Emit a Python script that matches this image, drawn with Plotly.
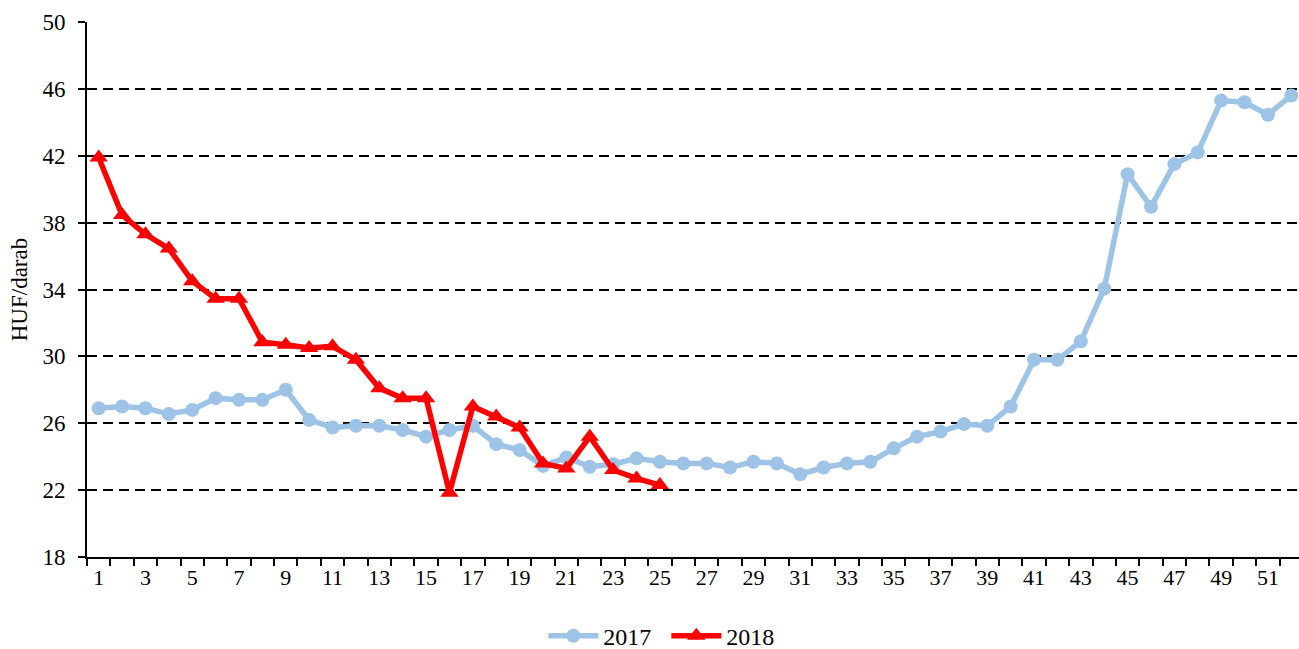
import plotly.graph_objects as go

weeks = list(range(1, 53))
values_2017 = [26.9, 27.0, 26.9, 26.55, 26.8, 27.5, 27.4, 27.4, 28.0, 26.2,
               25.75, 25.85, 25.85, 25.6, 25.2, 25.6, 25.85, 24.75, 24.4, 23.45,
               23.95, 23.4, 23.55, 23.9, 23.7, 23.6, 23.6, 23.35, 23.7, 23.6,
               22.95, 23.35, 23.6, 23.7, 24.5, 25.2, 25.5, 25.95, 25.85, 27.0,
               29.8, 29.8, 30.9, 34.05, 40.9, 38.95, 41.5, 42.2, 45.3, 45.2,
               44.45, 45.6]
weeks_2018 = list(range(1, 26))
values_2018 = [41.9, 38.45, 37.3, 36.45, 34.5, 33.45, 33.45, 30.85, 30.7, 30.5,
               30.6, 29.8, 28.1, 27.5, 27.5, 21.85, 27.0, 26.4, 25.75, 23.6,
               23.3, 25.2, 23.2, 22.7, 22.3]
x_tick_labels = [str(w) for w in range(1, 53, 2)]
y_ticks = [18, 22, 26, 30, 34, 38, 42, 46, 50]

font = "Liberation Serif, Times New Roman, serif"

fig = go.Figure()
fig.add_trace(go.Scatter(
    x=weeks, y=values_2017, name="2017", mode="lines+markers",
    line=dict(color="#9DC3E6", width=5.5),
    marker=dict(symbol="circle", size=14, color="#9DC3E6"),
))
fig.add_trace(go.Scatter(
    x=weeks_2018, y=values_2018, name="2018", mode="lines+markers",
    line=dict(color="#FF0000", width=5.5),
    marker=dict(symbol="triangle-up", size=16, color="#FF0000"),
))

fig.update_layout(
    width=1299, height=649,
    margin=dict(l=87, r=0, t=22, b=92, autoexpand=False),
    plot_bgcolor="white", paper_bgcolor="white",
    font=dict(family=font, size=22, color="black"),
    showlegend=True,
    legend=dict(orientation="h", x=0.478, xanchor="center", y=-0.148, yanchor="middle",
                font=dict(size=24, family=font), itemwidth=50, traceorder="normal",
                entrywidth=58, entrywidthmode="pixels"),
)
fig.update_xaxes(
    range=[0.5, 52.33],
    tickmode="array", tickvals=list(range(1, 53, 2)), ticktext=x_tick_labels,
    ticks="", showgrid=False, zeroline=False,
    showline=True, linecolor="black", linewidth=2,
    minor=dict(tick0=0.5, dtick=1, ticks="outside", ticklen=7, tickcolor="black",
               tickwidth=2, showgrid=False),
    tickfont=dict(size=22, family=font),
)
fig.update_yaxes(
    range=[18, 50],
    tickmode="array", tickvals=y_ticks,
    ticks="outside", ticklen=7, tickcolor="black", tickwidth=2,
    showgrid=True, gridcolor="black", gridwidth=2, griddash="10px,6px",
    zeroline=False, showline=True, linecolor="black", linewidth=2,
    tickfont=dict(size=23, family=font),
    ticklabelstandoff=8,
    title=dict(text="HUF/darab", font=dict(size=23, family=font), standoff=8),
)

fig.write_html("out.html", config={"displayModeBar": False},
               post_script="document.body.style.margin='0';document.body.style.overflow='hidden';")
